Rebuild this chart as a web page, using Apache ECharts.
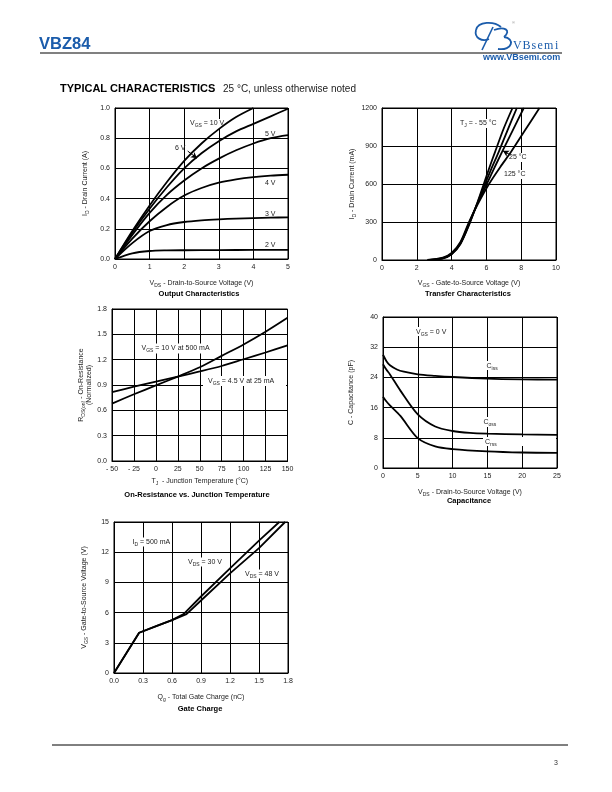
<!DOCTYPE html>
<html><head><meta charset="utf-8">
<script src="https://cdn.jsdelivr.net/npm/echarts@6/dist/echarts.min.js"></script>
<style>html,body{margin:0;padding:0;background:#fff}#c{width:612px;height:792px}</style>
</head><body><div id="c"></div>
<script>
// ---------- DATA ----------
// Output characteristics: [V_DS (V), I_D (A)]
const out10V = [[0,0],[0.5,0.185],[1,0.355],[1.5,0.51],[2,0.65],[2.5,0.765],[3,0.86],[3.5,0.94],[4,1.0]];
const out6V  = [[0,0],[0.5,0.175],[1,0.333],[1.5,0.475],[2,0.6],[2.5,0.7],[3,0.78],[3.5,0.845],[4,0.895],[4.5,0.945],[5,0.995]];
const out5V  = [[0,0],[0.5,0.16],[1,0.306],[1.5,0.425],[2,0.52],[2.5,0.6],[3,0.665],[3.5,0.72],[4,0.765],[4.5,0.8],[5,0.82]];
const out4V  = [[0,0],[0.5,0.135],[1,0.25],[1.5,0.345],[2,0.42],[2.5,0.47],[3,0.505],[3.5,0.527],[4,0.542],[4.5,0.552],[5,0.558]];
const out3V  = [[0,0],[0.5,0.105],[1,0.185],[1.5,0.225],[2,0.245],[2.5,0.256],[3,0.263],[3.5,0.268],[4,0.271],[4.5,0.274],[5,0.276]];
const out2V  = [[0,0],[0.5,0.038],[1,0.053],[1.5,0.057],[2,0.058],[3,0.059],[4,0.06],[5,0.061]];
// Transfer characteristics: [V_GS (V), I_D (mA)]
const trM55  = [[2.8,0],[3.5,12],[4,45],[4.5,125],[5,275],[5.5,460],[5.85,600],[6.2,740],[6.5,854],[7,1040],[7.5,1200]];
const trMid  = [[2.75,0],[3.5,13],[4,47],[4.5,128],[5,282],[5.5,455],[5.92,600],[6.3,725],[6.71,854],[7.2,1020],[7.75,1200]];
const tr25   = [[2.7,0],[3.5,15],[4,50],[4.5,133],[5,290],[5.5,450],[6.02,600],[6.45,725],[6.9,854],[7.5,1020],[8.15,1200]];
const tr125  = [[2.6,0],[3.5,18],[4,55],[4.5,140],[5,300],[5.5,440],[6.15,600],[6.8,735],[7.42,854],[8.2,1020],[9.05,1200]];
// On-resistance vs junction temperature: [T_J (°C), R normalized]
const ron10V  = [[-50,0.68],[-25,0.79],[0,0.895],[25,1.0],[50,1.11],[75,1.245],[100,1.38],[125,1.53],[150,1.695]];
const ron45V  = [[-50,0.815],[-25,0.88],[0,0.94],[25,1.0],[50,1.06],[75,1.125],[100,1.205],[125,1.285],[150,1.37]];
// Capacitance: [V_DS (V), C (pF)]
const capCiss = [[0,30],[0.5,28.3],[1,27.2],[2,26.1],[3,25.5],[5,24.8],[7.5,24.4],[10,24.1],[15,23.7],[20,23.5],[25,23.4]];
const capCoss = [[0,27.5],[0.5,26],[1,24.8],[2.5,20.5],[5,14.2],[7.5,11],[10,9.8],[12.5,9.3],[15,9.1],[20,8.9],[25,8.8]];
const capCrss = [[0,18.9],[0.5,17.6],[1,16.6],[2.5,13.8],[5,7.9],[7.5,5.7],[10,5.0],[15,4.4],[20,4.1],[25,4.0]];
// Gate charge: [Q_g (nC), V_GS (V)]
const gc30V = [[0,0],[0.26,4.0],[0.45,4.7],[0.6,5.25],[0.72,5.85],[0.9,7.6],[1.2,10.4],[1.5,13.15],[1.71,15]];
const gc48V = [[0,0],[0.26,4.0],[0.45,4.7],[0.6,5.25],[0.75,5.85],[0.9,7.2],[1.2,9.9],[1.5,12.4],[1.77,15]];
// Annotation arrows (data coordinates)
const arrow6V  = [[2.1,0.715],[2.37,0.667]];
const arrow25C = [[7.4,828],[6.95,862]];

// ---------- STYLE ----------
const FONT = '"Liberation Sans", Arial, Helvetica, sans-serif';
const TXT = '#222';
const RICH = {
  m: {fontSize: 7, fontFamily: FONT, color: TXT, verticalAlign: 'middle'},
  s: {fontSize: 5, fontFamily: FONT, color: TXT, verticalAlign: 'middle', padding: [5,0,0,0]}
};

const grids = [
  {left:115, top:108, width:173, height:151},
  {left:382, top:108, width:174, height:152},
  {left:112, top:309, width:175.5, height:152},
  {left:383, top:317, width:174, height:151},
  {left:114, top:522, width:174, height:151}
].map(g => Object.assign({show:true, borderColor:'#000', borderWidth:1, containLabel:false}, g));

function axis(gi, min, max, interval, fmt, name, gap) {
  return {
    type:'value', gridIndex:gi, min, max, interval,
    axisLine:{show:true, onZero:false, lineStyle:{color:'#000', width:1}},
    axisTick:{show:false},
    splitLine:{show:true, lineStyle:{color:'#000', width:1}},
    axisLabel:{fontSize:7, fontFamily:FONT, color:TXT, margin:5, formatter: fmt},
    name, nameLocation:'middle', nameGap:gap,
    nameTextStyle:{fontSize:7, fontFamily:FONT, color:TXT, rich:RICH}
  };
}
const f1 = v => v.toFixed(1);
const f0 = v => String(v);
const fT = v => v < 0 ? '- ' + (-v) : String(v);

const xAxes = [
  axis(0, 0, 5, 1, f0, '{m|V}{s|DS}{m| - Drain-to-Source Voltage (V)}', 19),
  axis(1, 0, 10, 2, f0, '{m|V}{s|GS}{m| - Gate-to-Source Voltage (V)}', 18),
  axis(2, -50, 150, 25, fT, '{m|T}{s|J}{m|  - Junction Temperature (°C)}', 15),
  axis(3, 0, 25, 5, f0, '{m|V}{s|DS}{m| - Drain-to-Source Voltage (V)}', 19),
  axis(4, 0, 1.8, 0.3, f1, '{m|Q}{s|g}{m| - Total Gate Charge (nC)}', 19)
];
const yAxes = [
  axis(0, 0, 1.0, 0.2, f1, '{m|I}{s|D}{m| - Drain Current (A)}', 25),
  axis(1, 0, 1200, 300, f0, '{m|I}{s|D}{m| - Drain Current (mA)}', 24),
  axis(2, 0, 1.8, 0.3, f1, '{m|R}{s|DS(on)}{m| - On-Resistance}\n{m|(Normalized)}', 19),
  axis(3, 0, 40, 8, f0, '{m|C - Capacitance (pF)}', 28),
  axis(4, 0, 15, 3, f0, '{m|V}{s|GS}{m| - Gate-to-Source Voltage (V)}', 25)
];

function line(gi, data, smooth, extra) {
  return Object.assign({
    type:'line', xAxisIndex:gi, yAxisIndex:gi, data, smooth: smooth,
    symbol:'none', showSymbol:false, silent:true, z:3,
    lineStyle:{color:'#000', width:1.8}
  }, extra || {});
}
function arrowLine(pts) {
  return {
    silent:true, symbol:['none','arrow'], symbolSize:[5,6],
    lineStyle:{color:'#000', width:1, type:'solid'}, label:{show:false},
    data:[[{coord:pts[0]},{coord:pts[1]}]]
  };
}

const series = [
  line(0, out10V, 0.3), line(0, out6V, 0.3, {markLine: arrowLine(arrow6V)}), line(0, out5V, 0.3),
  line(0, out4V, 0.3), line(0, out3V, 0.3), line(0, out2V, 0.3),
  line(1, trM55, 0.3), line(1, trMid, 0.3), line(1, tr25, 0.3, {markLine: arrowLine(arrow25C)}), line(1, tr125, 0.3),
  line(2, ron10V, 0.3), line(2, ron45V, 0.3),
  line(3, capCiss, 0.3), line(3, capCoss, 0.3), line(3, capCrss, 0.3),
  line(4, gc30V, false), line(4, gc48V, false)
];

// ---------- GRAPHIC (page text, labels) ----------
function txt(x, y, text, font, fill, align, extra) {
  return Object.assign({type:'text', x, y, z:10, silent:true,
    style:{text, font, fill: fill || TXT, align: align || 'left', verticalAlign:'middle',
      textAlign: align || 'left', textVerticalAlign:'middle', rich: RICH}}, extra || {});
}
function box(x, y, w, h) {
  return {type:'rect', z:1, silent:true, shape:{x, y, width:w, height:h}, style:{fill:'#fff'}};
}
function bez(p, color, w) {
  return {type:'bezierCurve', z:6, silent:true,
    shape:{x1:p[0], y1:p[1], cpx1:p[2], cpy1:p[3], cpx2:p[4], cpy2:p[5], x2:p[6], y2:p[7]},
    style:{stroke:color, fill:null, lineWidth:w}};
}
const F7 = '7px ' + FONT;
const FB = 'bold 7.5px ' + FONT;
const BLUE = '#1b5cab';

const g = [
  // header
  txt(39, 44, 'VBZ84', 'bold 16.5px ' + FONT, BLUE),
  {type:'line', z:5, silent:true, shape:{x1:40, y1:53, x2:562, y2:53}, style:{stroke:'#808080', lineWidth:2}},
  bez([501,27, 494,21, 478,21, 476,30], BLUE, 1.8),
  bez([476,30, 474,38, 482,42, 489,39], BLUE, 1.8),
  {type:'line', z:6, silent:true, shape:{x1:482, y1:50, x2:493, y2:27}, style:{stroke:BLUE, lineWidth:1.6}},
  bez([494,30, 504,26, 512,30, 504,37], BLUE, 1.8),
  bez([504,37, 515,38, 513,51, 498,49], BLUE, 1.8),
  txt(512, 23, '®', '4px ' + FONT, '#888'),
  txt(483, 58, 'www.VBsemi.com', 'bold 9px ' + FONT, BLUE),
  txt(60, 89, 'TYPICAL CHARACTERISTICS', 'bold 11px ' + FONT, '#000'),
  txt(223, 89, '25 °C, unless otherwise noted', '10px ' + FONT, '#222'),
  // footer
  {type:'line', z:5, silent:true, shape:{x1:52, y1:745, x2:568, y2:745}, style:{stroke:'#000', lineWidth:1}},
  txt(554, 763, '3', '7px ' + FONT, '#333'),
  // chart titles
  txt(199, 293.5, 'Output Characteristics', FB, '#000', 'center'),
  txt(468, 293.5, 'Transfer Characteristics', FB, '#000', 'center'),
  txt(197, 495, 'On-Resistance vs. Junction Temperature', FB, '#000', 'center'),
  txt(469, 501, 'Capacitance', FB, '#000', 'center'),
  txt(200, 709, 'Gate Charge', FB, '#000', 'center'),
  // label backgrounds (cover grid lines like the original)
  box(189, 119, 38, 9),
  box(459, 119, 40, 9), box(508, 153, 18, 9), box(503, 170, 23, 9),
  box(140, 343.5, 73, 10), box(203, 376, 83, 10),
  box(414, 327, 33, 9), box(485, 361, 13, 9), box(482, 417, 15, 10), box(483, 437, 73, 9),
  box(131, 537.5, 41, 9), box(187, 557.5, 31, 9), box(244, 569.5, 37, 9),
  // chart 1 labels
  txt(190, 123.5, '{m|V}{s|GS}{m| = 10 V}', F7),
  txt(175, 148.5, '{m|6 V}', F7),
  txt(265, 134, '{m|5 V}', F7),
  txt(265, 183, '{m|4 V}', F7),
  txt(265, 214, '{m|3 V}', F7),
  txt(265, 245.5, '{m|2 V}', F7),
  // chart 2 labels
  txt(460, 123.5, '{m|T}{s|J}{m| = - 55 °C}', F7),
  txt(509, 157.5, '{m|25 °C}', F7),
  txt(504, 174, '{m|125 °C}', F7),
  // chart 3 labels
  txt(141.5, 348.3, '{m|V}{s|GS}{m| = 10 V at 500 mA}', F7),
  txt(208, 380.7, '{m|V}{s|GS}{m| = 4.5 V at 25 mA}', F7),
  // chart 4 labels
  txt(416, 331.7, '{m|V}{s|GS}{m| = 0 V}', F7),
  txt(486.5, 365.7, '{m|C}{s|iss}', F7),
  txt(483.5, 421.7, '{m|C}{s|oss}', F7),
  txt(485, 441.7, '{m|C}{s|rss}', F7),
  // chart 5 labels
  txt(132.5, 542, '{m|I}{s|D}{m| = 500 mA}', F7),
  txt(188, 562, '{m|V}{s|DS}{m| = 30 V}', F7),
  txt(245, 574, '{m|V}{s|DS}{m| = 48 V}', F7)
];
// "VBsemi" logo word with letter spacing
const logoWord = 'VBsemi';
const logoX = [513, 522.5, 531.5, 537.5, 544, 555];
logoWord.split('').forEach((ch, i) => g.push(txt(logoX[i], 46, ch, '12px "Liberation Serif", "DejaVu Serif", serif', BLUE)));

const chart = echarts.init(document.getElementById('c'), null, {renderer:'canvas'});
chart.setOption({
  animation:false,
  backgroundColor:'#fff',
  grid: grids,
  xAxis: xAxes,
  yAxis: yAxes,
  series,
  graphic: g
});
</script></body></html>
